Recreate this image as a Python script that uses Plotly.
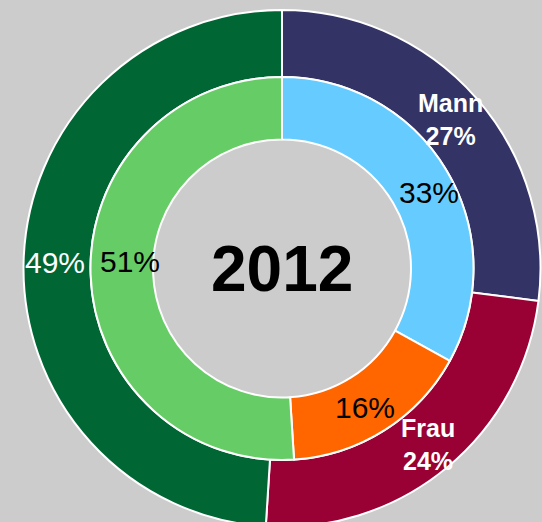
import math
import plotly.graph_objects as go

# Data
outer_labels = ["Mann", "Frau", "Sonstige"]
outer_values = [27, 24, 49]
outer_show_name = [True, True, False]
inner_labels = ["Mann", "Frau", "Sonstige"]
inner_values = [33, 16, 51]
center_label = "2012"

outer_colors = ["#333366", "#990033", "#006633"]
inner_colors = ["#66CCFF", "#FF6600", "#66CC66"]

W, H = 542, 537
FONT = "Liberation Sans, Arial, sans-serif"

cx, cy = 282, 268.5
R_out, R_in, R_hole = 258.5, 191.5, 129

# small label offsets (px) to mimic the reference label placement
outer_nudge = [(0, 0), (3, -3), (-2, -1)]
inner_nudge = [(9, -6), (-3, -4), (8, 12)]


def dom(r):
    return dict(
        x=[(cx - r) / W, (cx + r) / W],
        y=[(H - (cy + r)) / H, (H - (cy - r)) / H],
    )


fig = go.Figure()
fig.add_trace(go.Pie(
    labels=outer_labels, values=outer_values, sort=False,
    direction="clockwise", rotation=0, hole=R_in / R_out,
    domain=dom(R_out),
    marker=dict(colors=outer_colors, line=dict(color="white", width=2)),
    textinfo="none",
    showlegend=False, hoverinfo="label+value",
))
fig.add_trace(go.Pie(
    labels=inner_labels, values=inner_values, sort=False,
    direction="clockwise", rotation=0, hole=R_hole / R_in,
    domain=dom(R_in),
    marker=dict(colors=inner_colors, line=dict(color="white", width=2)),
    textinfo="none",
    showlegend=False, hoverinfo="label+value",
))


def ring_labels(values, r_mid, texts, colors, sizes, nudges):
    total = sum(values)
    cum = 0
    for v, t, c, s, (dx, dy) in zip(values, texts, colors, sizes, nudges):
        mid = (cum + v / 2) / total * 2 * math.pi
        cum += v
        px = cx + r_mid * math.sin(mid)
        py = cy - r_mid * math.cos(mid)
        fig.add_annotation(
            x=px / W, y=(H - py) / H, xref="paper", yref="paper",
            text=t, showarrow=False, xanchor="center", yanchor="middle",
            xshift=dx, yshift=dy,
            font=dict(family=FONT, size=s, color=c),
        )


outer_texts = [
    (f"<b>{n}<br>{v}%</b>" if show else f"{v}%")
    for n, v, show in zip(outer_labels, outer_values, outer_show_name)
]
ring_labels(outer_values, (R_in + R_out) / 2, outer_texts,
            ["white"] * 3, [25 if s else 30 for s in outer_show_name], outer_nudge)
ring_labels(inner_values, (R_hole + R_in) / 2,
            [f"{v}%" for v in inner_values], ["black"] * 3, [30] * 3, inner_nudge)

fig.add_annotation(
    x=cx / W, y=(H - cy) / H, xref="paper", yref="paper",
    text="<b>" + center_label + "</b>", showarrow=False,
    xanchor="center", yanchor="middle",
    font=dict(family=FONT, size=64, color="black"),
)

fig.update_layout(
    width=W, height=H,
    margin=dict(l=0, r=0, t=0, b=0),
    paper_bgcolor="#CCCCCC", plot_bgcolor="#CCCCCC",
    font=dict(family=FONT),
)

fig.write_html(
    "out.html",
    config={"displayModeBar": False},
    post_script="document.body.style.margin='0';document.body.style.overflow='hidden';",
)
